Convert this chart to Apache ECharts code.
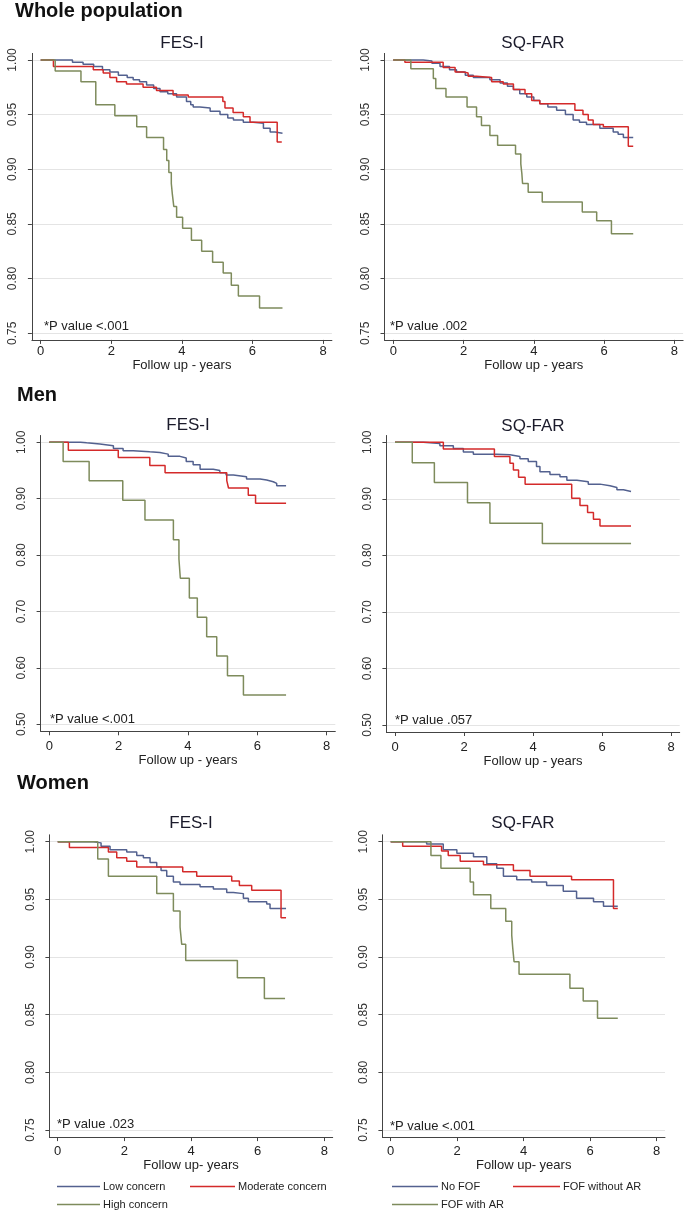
<!DOCTYPE html>
<html><head><meta charset="utf-8">
<script src="https://cdn.jsdelivr.net/npm/echarts@6/dist/echarts.min.js"></script>
<style>html,body{margin:0;padding:0;background:#fff}#c{width:685px;height:1215px}</style>
</head><body><div id="c"></div>
<script>
// ---- tick labels / categories ----
const xTicks = [0, 2, 4, 6, 8];
const yTicksNarrow = [0.75, 0.80, 0.85, 0.90, 0.95, 1.00];
const yTicksWide = [0.50, 0.60, 0.70, 0.80, 0.90, 1.00];
const fesGroups = ['Low concern', 'Moderate concern', 'High concern'];
const sqGroups = ['No FOF', 'FOF without AR', 'FOF with AR'];
const sectionTitles = ['Whole population', 'Men', 'Women'];
const panelTitles = ['FES-I', 'SQ-FAR', 'FES-I', 'SQ-FAR', 'FES-I', 'SQ-FAR'];
const xAxisNames = ['Follow up - years', 'Follow up - years', 'Follow up - years', 'Follow up - years', 'Follow up- years', 'Follow up- years'];
const pValues = ['*P value <.001', '*P value .002', '*P value <.001', '*P value .057', '*P value .023', '*P value <.001'];

// ---- Kaplan-Meier step data: [time (years), survival after step] ----
// Whole population, FES-I
const wholeFesLow = [[0,1],[0.9,0.998],[1.2,0.996],[1.5,0.994],[1.75,0.991],[1.96,0.989],[2.2,0.986],[2.45,0.984],[2.62,0.982],[2.8,0.980],[3.0,0.977],[3.2,0.974],[3.38,0.971],[3.6,0.969],[3.85,0.966],[4.13,0.962],[4.25,0.959],[4.32,0.957],[4.51,0.956],[4.8,0.953],[5.08,0.950],[5.3,0.947],[5.46,0.945],[5.74,0.943],[6.02,0.942],[6.31,0.9375],[6.5,0.934],[6.64,0.933],[6.85,0.933]];
const wholeFesMod = [[0,1],[0.36,0.994],[1.49,0.991],[1.77,0.988],[1.96,0.984],[2.15,0.980],[2.43,0.978],[2.9,0.975],[3.28,0.972],[3.75,0.968],[4.18,0.966],[5.16,0.962],[5.22,0.956],[5.45,0.952],[5.74,0.948],[5.93,0.943],[6.7,0.925],[6.83,0.925]];
const wholeFesHigh = [[0,1],[0.41,0.990],[1.14,0.980],[1.56,0.959],[2.1,0.949],[2.72,0.939],[3.0,0.929],[3.48,0.918],[3.57,0.908],[3.63,0.897],[3.70,0.887],[3.73,0.877],[3.77,0.866],[3.85,0.856],[4.02,0.846],[4.27,0.835],[4.56,0.825],[4.87,0.815],[5.17,0.805],[5.4,0.794],[5.6,0.784],[6.2,0.773],[6.85,0.773]];
// Whole population, SQ-FAR
const wholeSqNo = [[0,1],[0.85,0.999],[1.1,0.997],[1.33,0.994],[1.6,0.991],[1.8,0.989],[2.05,0.986],[2.28,0.984],[2.75,0.982],[3.04,0.979],[3.25,0.976],[3.42,0.973],[3.6,0.969],[3.8,0.966],[4.0,0.963],[4.17,0.960],[4.4,0.957],[4.65,0.954],[4.9,0.950],[5.12,0.945],[5.3,0.943],[5.5,0.941],[5.88,0.9375],[6.26,0.934],[6.4,0.932],[6.55,0.929],[6.83,0.929]];
const wholeSqNoAR = [[0,1],[0.33,0.998],[1.42,0.993],[1.76,0.989],[2.0,0.988],[2.13,0.985],[2.37,0.984],[2.8,0.980],[3.13,0.978],[3.42,0.973],[3.75,0.969],[3.94,0.963],[4.17,0.960],[5.17,0.954],[5.4,0.950],[5.55,0.945],[5.69,0.941],[5.98,0.939],[6.69,0.921],[6.83,0.921]];
const wholeSqAR = [[0,1],[0.5,0.992],[1.14,0.983],[1.21,0.974],[1.5,0.966],[2.1,0.957],[2.37,0.948],[2.51,0.940],[2.75,0.931],[2.97,0.922],[3.48,0.914],[3.63,0.905],[3.66,0.896],[3.68,0.887],[3.84,0.879],[4.24,0.870],[5.38,0.861],[5.79,0.853],[6.21,0.841],[6.83,0.841]];
// Men, FES-I
const menFesLow = [[0,1],[0.9,0.999],[1.08,0.997],[1.46,0.994],[1.85,0.989],[2.13,0.985],[2.42,0.983],[2.9,0.982],[3.19,0.979],[3.43,0.975],[3.77,0.972],[3.95,0.966],[4.15,0.960],[4.35,0.952],[4.73,0.950],[4.92,0.946],[5.1,0.942],[5.31,0.939],[5.69,0.935],[6.08,0.933],[6.27,0.930],[6.46,0.927],[6.56,0.923],[6.83,0.923]];
const menFesMod = [[0,1],[0.55,0.986],[1.99,0.973],[2.9,0.959],[3.34,0.946],[5.12,0.932],[5.17,0.919],[5.74,0.906],[5.95,0.892],[6.83,0.892]];
const menFesHigh = [[0,1],[0.40,0.966],[1.15,0.932],[2.12,0.897],[2.76,0.862],[3.58,0.827],[3.74,0.793],[3.78,0.759],[4.04,0.724],[4.27,0.690],[4.54,0.655],[4.83,0.621],[5.14,0.586],[5.6,0.552],[6.83,0.552]];
// Men, SQ-FAR
const menSqNo = [[0,1],[0.82,0.998],[1.3,0.994],[1.69,0.989],[1.98,0.983],[2.27,0.979],[2.95,0.978],[3.33,0.975],[3.62,0.971],[3.86,0.966],[4.1,0.957],[4.2,0.948],[4.49,0.943],[4.78,0.939],[4.98,0.933],[5.27,0.930],[5.6,0.926],[5.94,0.923],[6.23,0.920],[6.43,0.916],[6.62,0.913],[6.84,0.913]];
const menSqNoAR = [[0,1],[1.4,0.988],[2.88,0.975],[3.33,0.963],[3.43,0.951],[3.58,0.938],[3.77,0.926],[5.12,0.901],[5.36,0.888],[5.58,0.876],[5.75,0.864],[5.94,0.852],[6.84,0.852]];
const menSqAR = [[0,1],[0.5,0.964],[1.14,0.929],[2.1,0.893],[2.75,0.857],[4.27,0.821],[6.84,0.821]];
// Women, FES-I
const womenFesLow = [[0,1],[1.07,0.999],[1.3,0.996],[1.57,0.993],[2.07,0.991],[2.37,0.988],[2.57,0.986],[2.77,0.982],[2.97,0.978],[3.1,0.975],[3.27,0.970],[3.47,0.965],[3.67,0.963],[4.27,0.961],[4.67,0.959],[5.07,0.956],[5.27,0.955],[5.57,0.951],[5.72,0.948],[6.27,0.946],[6.37,0.942],[6.85,0.942]];
const womenFesMod = [[0,1],[0.35,0.995],[1.52,0.991],[1.77,0.986],[2.07,0.983],[2.37,0.978],[3.75,0.974],[4.17,0.970],[5.22,0.966],[5.45,0.962],[5.82,0.958],[6.7,0.934],[6.85,0.934]];
const womenFesHigh = [[0,1],[1.2,0.985],[1.52,0.970],[2.97,0.955],[3.47,0.940],[3.67,0.926],[3.72,0.911],[3.84,0.897],[5.39,0.882],[6.2,0.864],[6.82,0.864]];
// Women, SQ-FAR
const womenSqNo = [[0,1],[1.08,0.998],[1.58,0.993],[1.99,0.990],[2.49,0.987],[2.89,0.981],[3.19,0.977],[3.39,0.970],[3.79,0.967],[4.24,0.965],[4.69,0.962],[5.19,0.957],[5.59,0.951],[6.1,0.948],[6.4,0.944],[6.83,0.944]];
const womenSqNoAR = [[0,1],[0.36,0.996],[1.53,0.992],[1.73,0.988],[2.09,0.983],[2.79,0.980],[3.69,0.975],[4.19,0.970],[5.44,0.967],[6.7,0.942],[6.83,0.942]];
const womenSqAR = [[0,1],[1.21,0.988],[1.51,0.977],[2.39,0.965],[2.49,0.954],[3.01,0.942],[3.46,0.931],[3.64,0.919],[3.67,0.908],[3.71,0.896],[3.86,0.885],[5.39,0.873],[5.79,0.862],[6.22,0.847],[6.83,0.847]];

// ---- layout & style ----
const FONT = 'Liberation Sans, Arial, sans-serif';
const colors = ['#53618f', '#d42a2a', '#7e8b5c'];
const panels = [
  {grid:{left:31.9, top:53.4, width:300, height:286.5}, y:[0.7439,1.006], ticks:yTicksNarrow, groups:fesGroups, data:[wholeFesLow, wholeFesMod, wholeFesHigh], tc:[182,43], pv:[44,326], lm:5, ng:18.5},
  {grid:{left:384.5, top:53.4, width:298.6, height:286.5}, y:[0.7439,1.006], ticks:yTicksNarrow, groups:sqGroups, data:[wholeSqNo, wholeSqNoAR, wholeSqAR], tc:[533,43], pv:[390,326], lm:5, ng:18.5},
  {grid:{left:40.6, top:435.5, width:294.7, height:295.8}, y:[0.4876,1.012], ticks:yTicksWide, groups:fesGroups, data:[menFesLow, menFesMod, menFesHigh], tc:[188,425], pv:[50,719], lm:9, ng:19.5},
  {grid:{left:386.4, top:435.5, width:293.3, height:296.5}, y:[0.4876,1.012], ticks:yTicksWide, groups:sqGroups, data:[menSqNo, menSqNoAR, menSqAR], tc:[533,426], pv:[395,720], lm:9, ng:19.5},
  {grid:{left:49.4, top:834.8, width:283.3, height:302.3}, y:[0.7439,1.006], ticks:yTicksNarrow, groups:fesGroups, data:[womenFesLow, womenFesMod, womenFesHigh], tc:[191,823], pv:[57,1124], lm:8, ng:19.5},
  {grid:{left:382.4, top:834.8, width:282.6, height:302.3}, y:[0.7439,1.006], ticks:yTicksNarrow, groups:sqGroups, data:[womenSqNo, womenSqNoAR, womenSqAR], tc:[523,823], pv:[390,1126], lm:8, ng:19.5}
];

const grid = [], xAxis = [], yAxis = [], series = [], graphic = [];
const axisLineStyle = {color:'#444', width:1};
panels.forEach((p, i) => {
  grid.push(Object.assign({containLabel:false}, p.grid));
  xAxis.push({
    type:'value', gridIndex:i, min:-0.25, max:8.25,
    name: xAxisNames[i], nameLocation:'middle', nameGap:p.ng,
    nameTextStyle:{fontFamily:FONT, fontSize:13, color:'#222'},
    axisLine:{show:true, onZero:false, lineStyle:axisLineStyle},
    axisTick:{show:true, length:4, customValues:xTicks, lineStyle:axisLineStyle},
    axisLabel:{customValues:xTicks, margin:p.lm, fontFamily:FONT, fontSize:13, color:'#222'},
    splitLine:{show:false}
  });
  yAxis.push({
    type:'value', gridIndex:i, min:p.y[0], max:p.y[1],
    axisLine:{show:true, onZero:false, lineStyle:axisLineStyle},
    axisTick:{show:true, length:4, customValues:p.ticks, lineStyle:axisLineStyle},
    axisLabel:{customValues:p.ticks, rotate:90, margin:13, fontFamily:'Liberation Sans Narrow, Liberation Sans, Arial', fontSize:12, color:'#333',
      formatter:v => v.toFixed(2)},
    splitLine:{show:true, lineStyle:{color:'#e4e4e4', width:1}}
  });
  p.data.forEach((d, k) => {
    series.push({
      type:'line', name:p.groups[k], xAxisIndex:i, yAxisIndex:i, data:d,
      step:'end', showSymbol:false, symbol:'none',
      lineStyle:{color:colors[k], width:1.5}, itemStyle:{color:colors[k]},
      z: 2 + k
    });
  });
  graphic.push({type:'text', x:p.tc[0], y:p.tc[1], style:{text:panelTitles[i], fill:'#1b1b2b', font:'17px ' + FONT, textAlign:'center', textVerticalAlign:'middle'}});
  graphic.push({type:'text', x:p.pv[0], y:p.pv[1], style:{text:pValues[i], fill:'#222', font:'13px ' + FONT, textAlign:'left', textVerticalAlign:'middle'}});
});
const headPos = [[15,11],[17,395],[17,783]];
sectionTitles.forEach((t, i) => {
  graphic.push({type:'text', x:headPos[i][0], y:headPos[i][1], style:{text:t, fill:'#111', font:'bold 20px ' + FONT, textAlign:'left', textVerticalAlign:'middle'}});
});

// legends: one component per entry
const legendPos = [
  [fesGroups[0], 57, 1181, 43], [fesGroups[1], 190, 1181, 45], [fesGroups[2], 57, 1199, 43],
  [sqGroups[0], 392, 1181, 46], [sqGroups[1], 513, 1181, 47], [sqGroups[2], 392, 1199, 46]
];
const legend = legendPos.map(l => ({
  data:[l[0]], left:l[1], top:l[2], padding:0, itemWidth:l[3], itemHeight:1.5, icon:'rect', itemGap:0,
  textStyle:{fontFamily:FONT, fontSize:11, color:'#222', padding:[0,0,0,-2]}
}));

const chart = echarts.init(document.getElementById('c'), null, {renderer:'canvas'});
chart.setOption({animation:false, backgroundColor:'#fff', grid, xAxis, yAxis, series, graphic, legend});
</script></body></html>
